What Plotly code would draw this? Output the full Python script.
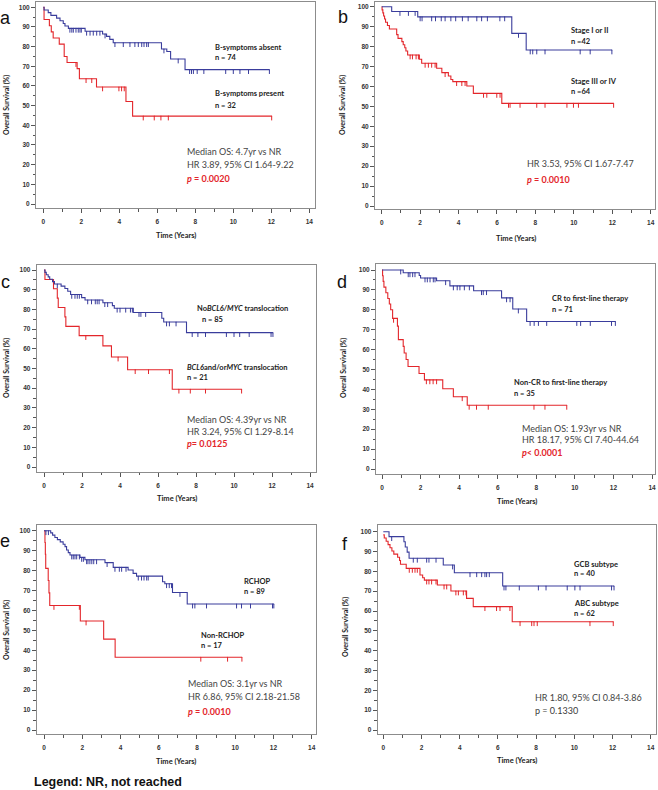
import plotly.graph_objects as go

W, H = 658, 790

# ---------------- data ----------------
# Panel a: B-symptoms
a_blue_t = [0, 0.04, 0.26, 0.4, 0.7, 0.88, 1.05, 1.14, 1.32, 2.2, 3.12, 3.33, 3.5, 3.68, 6.22, 6.5, 6.7, 7.46]
a_blue_s = [100, 98.6, 97.3, 95.9, 94.5, 93.2, 91.8, 90.5, 89.3, 87.8, 86.4, 85.2, 83.7, 82.0, 78.8, 77.5, 73.7, 68.3]
a_blue_c = [1.4, 1.5, 1.58, 1.72, 1.84, 1.93, 2.0, 2.28, 2.46, 2.63, 2.81, 2.98, 3.25, 3.77, 4.21, 4.56, 4.82,
            5.0, 5.18, 5.3, 5.44, 5.53, 6.35, 7.1, 7.7, 7.8, 7.9, 8.1, 8.45, 9.6, 10.0, 10.35, 10.8, 11.9]
a_red_t = [0, 0.04, 0.32, 0.42, 0.52, 0.84, 1.1, 1.25, 1.78, 1.9, 2.8, 4.35, 4.7]
a_red_s = [100, 93.8, 90.6, 87.5, 84.4, 81.3, 75.0, 71.9, 68.8, 63.7, 59.5, 52.1, 44.7]
a_red_c = [1.72, 2.25, 2.55, 3.12, 3.98, 4.12, 4.26, 5.26, 5.84, 6.19, 6.58, 12.02]

# Panel b: stage
b_blue_t = [0, 0.52, 1.875, 6.77, 7.52]
b_blue_s = [100, 97.6, 94.9, 86.6, 78.3]
b_blue_c = [0.95, 1.39, 1.74, 2.0, 2.1, 2.6, 2.8, 3.1, 3.3, 3.6, 3.85, 4.2, 4.5, 4.95, 5.2, 5.5, 6.15, 6.4,
            7.12, 7.73, 7.86, 8.07, 8.5, 10.33, 10.85, 11.98]
b_red_t = [0, 0.02, 0.06, 0.1, 0.15, 0.2, 0.3, 0.4, 0.78, 0.85, 1.05, 1.12, 1.2, 1.26, 1.35, 1.96, 2.08,
           2.86, 3.13, 3.47, 3.6, 3.7, 4.43, 4.77, 6.25]
b_red_s = [100, 98.4, 96.9, 95.3, 93.8, 92.2, 90.6, 88.8, 86.0, 84.1, 82.5, 80.9, 79.4, 77.8, 75.8, 73.6, 71.6,
           69.1, 66.9, 65.2, 63.5, 62.4, 60.2, 56.5, 51.5]
b_red_c = [1.48, 1.6, 1.79, 1.91, 2.26, 2.43, 2.6, 2.78, 3.3, 3.9, 4.17, 4.34, 5.3, 5.47, 5.99, 6.16, 6.6, 6.68,
           7.2, 8.07, 8.5, 9.64, 9.98, 10.24, 12.07]

# Panel c: BCL6/MYC translocation
c_blue_t = [0, 0.05, 0.12, 0.22, 0.3, 0.45, 0.55, 0.9, 1.1, 1.25, 1.4, 1.98, 2.16, 3.1, 3.6, 3.7, 4.7, 6.2, 6.3, 7.5]
c_blue_s = [100, 98.8, 97.6, 96.5, 95.3, 94.1, 92.9, 91.8, 90.6, 89.2, 87.6, 86.0, 84.8, 83.4, 81.9, 80.6, 78.4,
            75.5, 73.6, 68.2]
c_blue_c = [0.7, 1.46, 1.63, 1.75, 1.86, 2.3, 2.5, 2.7, 2.8, 2.9, 3.2, 3.35, 3.85, 4.0, 4.3, 4.55, 4.65, 5.0, 5.1,
            5.35, 6.45, 6.6, 6.95, 7.8, 8.1, 8.5, 9.6, 10.0, 10.3, 10.8, 11.95, 12.05]
c_red_t = [0, 0.05, 0.5, 0.7, 0.75, 1.1, 1.15, 1.85, 3.1, 3.55, 4.4, 6.75]
c_red_s = [100, 95.2, 90.5, 85.7, 81.0, 76.2, 71.4, 66.7, 61.5, 55.8, 49.4, 39.5]
c_red_c = [2.2, 3.9, 4.8, 5.5, 6.6, 7.1, 7.7, 8.5, 10.4]

# Panel d: response to first-line therapy
d_blue_t = [0, 1.1, 1.93, 2.0, 2.83, 3.52, 4.75, 6.2, 6.78, 7.5]
d_blue_s = [100, 98.6, 97.2, 96.0, 94.6, 92.0, 89.6, 86.0, 80.4, 74.1]
d_blue_c = [0.97, 1.36, 1.45, 1.59, 1.71, 2.23, 2.35, 2.49, 2.66, 2.75, 3.3, 3.7, 3.9, 4.04, 4.27, 4.53, 5.16,
            5.25, 5.42, 6.46, 6.64, 7.07, 7.68, 7.89, 8.11, 8.54, 10.1, 10.3, 10.8, 11.9, 12.1]
d_red_t = [0, 0.03, 0.06, 0.1, 0.2, 0.3, 0.38, 0.45, 0.55, 0.8, 0.85, 1.1, 1.15, 1.25, 1.35, 1.92, 2.2, 3.15,
           3.7, 4.42]
d_red_s = [100, 97.1, 94.3, 91.4, 88.6, 85.7, 82.9, 80.0, 75.7, 71.8, 65.0, 61.6, 58.3, 55.0, 51.5, 48.0, 44.8,
           40.3, 36.3, 32.0]
d_red_c = [0.6, 2.3, 2.48, 2.65, 2.83, 4.16, 4.52, 4.9, 5.51, 7.88, 8.45, 9.58]

# Panel e: RCHOP
e_blue_t = [0, 0.35, 0.45, 0.57, 0.7, 0.85, 1.0, 1.1, 1.18, 1.27, 1.36, 1.88, 2.14, 3.19, 3.62, 4.4, 4.66, 4.84,
            6.2, 6.32, 6.72, 7.49]
e_blue_s = [100, 98.9, 97.8, 96.6, 95.5, 94.4, 93.2, 92.0, 90.3, 89.0, 87.8, 86.6, 85.4, 84.0, 81.6, 80.3, 78.6,
            77.2, 74.4, 73.4, 69.0, 63.2]
e_blue_c = [0.1, 0.23, 1.45, 1.53, 1.62, 1.71, 1.85, 1.97, 2.06, 2.23, 2.3, 2.4, 2.5, 2.6, 2.75, 3.3, 3.71, 3.94,
            4.06, 4.29, 4.93, 5.1, 5.23, 5.37, 5.45, 6.41, 6.55, 6.67, 7.11, 7.77, 7.89, 8.5, 10.07, 10.33, 10.8,
            11.95, 12.02]
e_red_t = [0, 0.05, 0.07, 0.09, 0.22, 0.26, 0.3, 1.9, 3.12, 3.72]
e_red_s = [100, 94.1, 88.2, 81.1, 75.0, 68.8, 62.5, 54.7, 45.6, 36.5]
e_red_c = [0.52, 1.85, 2.2, 8.2, 9.6, 10.35]

# Panel f: cell of origin
f_blue_t = [0, 0.3, 1.08, 1.15, 1.25, 1.35, 3.14, 3.72, 6.25]
f_blue_s = [100, 97.5, 94.9, 92.3, 89.7, 86.6, 83.2, 79.3, 72.6]
f_blue_c = [0.44, 1.57, 1.78, 2.27, 2.39, 2.76, 3.63, 4.54, 4.89, 5.15, 5.32, 5.41, 5.55, 6.32, 6.42, 7.12, 8.12,
            8.52, 9.63, 10.03, 10.3, 11.95, 12.08]
f_red_t = [0, 0.05, 0.15, 0.25, 0.35, 0.45, 0.55, 0.75, 0.85, 0.9, 1.2, 1.92, 2.06, 2.15, 2.83, 3.54, 4.36, 4.71,
           6.75]
f_red_s = [98.4, 96.8, 95.2, 93.5, 91.9, 90.3, 88.7, 87.1, 85.5, 83.6, 81.5, 78.2, 76.8, 75.6, 73.1, 70.1, 66.4,
           62.2, 54.6]
f_red_c = [1.36, 1.52, 1.66, 1.78, 2.27, 2.39, 2.53, 2.76, 3.18, 3.32, 3.8, 3.93, 4.19, 4.33, 5.32, 5.93, 6.11,
           6.63, 7.16, 7.77, 7.89, 8.06, 10.82, 12.04]

x_ticks = [0, 2, 4, 6, 8, 10, 12, 14]
y_ticks = [0, 10, 20, 30, 40, 50, 60, 70, 80, 90, 100]

# ---------------- styling / layout ----------------
BLUE = "#3a3d9c"
RED = "#e3262b"
TXT = "#3a3a3a"
LBL = "Lato"

panels = [
    dict(letter="a", letter_xy=(5, 18), box=(36, 2, 315, 208), xcal=(43.3, 309.3), ycal=(7.3, 204),
         ytitle_xy=(6, 105), xtitle_xy=(176, 235),
         blue=(a_blue_t, a_blue_s, a_blue_c), red=(a_red_t, a_red_s, a_red_c),
         groups=[(8.95, 79.8, "B-symptoms absent"), (8.95, 74.7, "n = 74"),
                 (8.95, 56.0, "B-symptoms present"), (8.95, 50.3, "n = 32")],
         stats=[(7.45, 26.5, "Median OS: 4.7yr vs NR"), (7.45, 20.3, "HR 3.89, 95% CI 1.64-9.22")],
         p=(7.45, 13.2, "<i>p</i> = 0.0020", RED)),
    dict(letter="b", letter_xy=(343, 17), box=(375, 2, 655, 209), xcal=(381.7, 650.7), ycal=(6.7, 206),
         ytitle_xy=(342, 105), xtitle_xy=(516, 238),
         blue=(b_blue_t, b_blue_s, b_blue_c), red=(b_red_t, b_red_s, b_red_c),
         groups=[(9.75, 88.3, "Stage I or II"), (9.75, 82.4, "n =42"),
                 (9.75, 62.4, "Stage III or IV"), (9.75, 57.4, "n =64")],
         stats=[(7.46, 21.1, "HR 3.53, 95% CI 1.67-7.47")],
         p=(7.46, 13.1, "<i>p</i> = 0.0010", RED)),
    dict(letter="c", letter_xy=(5, 282), box=(36.7, 265, 316, 471.7), xcal=(44, 310), ycal=(270, 467),
         ytitle_xy=(6, 368), xtitle_xy=(177, 498),
         blue=(c_blue_t, c_blue_s, c_blue_c), red=(c_red_t, c_red_s, c_red_c),
         groups=[(7.95, 80.7, "No<i>BCL6/MYC</i> translocation"), (8.2, 75.0, "n = 85"),
                 (7.42, 50.4, "<i>BCL6</i>and/or<i>MYC</i> translocation"), (7.42, 45.3, "n = 21")],
         stats=[(7.42, 24.2, "Median OS: 4.39yr vs NR"), (7.42, 17.9, "HR 3.24, 95% CI 1.29-8.14")],
         p=(7.42, 11.7, "<i>p</i>= 0.0125", RED)),
    dict(letter="d", letter_xy=(342, 282), box=(376, 264, 655, 474), xcal=(382, 652), ycal=(270, 469),
         ytitle_xy=(343, 368), xtitle_xy=(517, 502),
         blue=(d_blue_t, d_blue_s, d_blue_c), red=(d_red_t, d_red_s, d_red_c),
         groups=[(8.7, 85.8, "CR to first-line therapy"), (8.7, 80.3, "n = 71"),
                 (6.75, 43.4, "Non-CR to first-line therapy"), (6.75, 38.0, "n = 35")],
         stats=[(7.15, 20.4, "Median OS: 1.93yr vs NR"), (7.15, 14.6, "HR 18.17, 95% CI 7.40-44.64")],
         p=(7.15, 8.4, "<i>p</i>< 0.0001", RED)),
    dict(letter="e", letter_xy=(5, 541), box=(36.7, 525, 316, 734), xcal=(44, 311.7), ycal=(530.7, 730),
         ytitle_xy=(6, 630), xtitle_xy=(176, 761),
         blue=(e_blue_t, e_blue_s, e_blue_c), red=(e_red_t, e_red_s, e_red_c),
         groups=[(10.35, 74.4, "RCHOP"), (10.35, 69.4, "n = 89"),
                 (8.08, 47.2, "Non-RCHOP"), (8.08, 42.2, "n = 17")],
         stats=[(7.44, 23.1, "Median OS: 3.1yr vs NR"), (7.44, 16.7, "HR 6.86, 95% CI 2.18-21.58")],
         p=(7.44, 9.2, "<i>p</i> = 0.0010", RED)),
    dict(letter="f", letter_xy=(345, 544), box=(377.7, 525, 656, 734), xcal=(383.3, 650.7), ycal=(531.7, 730),
         ytitle_xy=(345, 627), xtitle_xy=(517, 760),
         blue=(f_blue_t, f_blue_s, f_blue_c), red=(f_red_t, f_red_s, f_red_c),
         groups=[(9.86, 83.7, "GCB subtype"), (9.86, 79.0, "n = 40"),
                 (9.86, 63.6, "ABC subtype"), (9.86, 58.5, "n = 62")],
         stats=[(7.86, 16.5, "HR 1.80, 95% CI 0.84-3.86")],
         p=(7.86, 9.8, "p = 0.1330", TXT)),
]


def step_value(t, s, c):
    v = s[0]
    for ti, si in zip(t, s):
        if ti <= c:
            v = si
    return v


fig = go.Figure()
annotations = []
layout_axes = {}

for i, P in enumerate(panels):
    k = "" if i == 0 else str(i + 1)
    xa, ya = "x" + k, "y" + k
    L, T, R, B = P["box"]
    x0p, x14p = P["xcal"]
    y100p, y0p = P["ycal"]
    sx = (x14p - x0p) / 14.0
    sy = (y0p - y100p) / 100.0
    xr = [(L - x0p) / sx, (R - x0p) / sx]
    yr = [-(B - y0p) / sy, 100 + (y100p - T) / sy]

    for (t, s, c), col in ((P["red"], RED), (P["blue"], BLUE)):
        end = max(max(c), t[-1])
        fig.add_trace(go.Scatter(x=list(t) + [end], y=list(s) + [s[-1]], mode="lines",
                                 line=dict(color=col, width=1.1, shape="hv"),
                                 xaxis=xa, yaxis=ya, showlegend=False, hoverinfo="skip"))
        cy = [step_value(t, s, ci) for ci in c]
        fig.add_trace(go.Scatter(x=c, y=cy, mode="markers", marker=dict(size=1, color=col),
                                 error_y=dict(type="data", symmetric=False, array=[0] * len(c),
                                              arrayminus=[2.2] * len(c), width=0, thickness=1, color=col),
                                 xaxis=xa, yaxis=ya, showlegend=False, hoverinfo="skip"))

    common = dict(showline=True, linecolor="#8c8c8c", linewidth=1, mirror=True, showgrid=False,
                  zeroline=False, ticks="outside", ticklen=4, tickwidth=1, tickcolor="#555555",
                  tickfont=dict(family="Liberation Sans", size=6.5, color="#333333", weight="bold"))
    layout_axes["xaxis" + k] = dict(common, domain=[L / W, R / W], range=xr, anchor=ya,
                                    tickvals=x_ticks, ticklabelstandoff=3,
                                    minor=dict(ticks="outside", ticklen=2.5, dtick=1, tick0=0,
                                               tickcolor="#555555"))
    layout_axes["yaxis" + k] = dict(common, domain=[1 - B / H, 1 - T / H], range=yr, anchor=xa,
                                    tickvals=y_ticks,
                                    minor=dict(ticks="outside", ticklen=2.5, dtick=5, tick0=0,
                                               tickcolor="#555555"))

    # panel letter
    lx, ly = P["letter_xy"]
    annotations.append(dict(text=P["letter"], x=lx / W, y=1 - ly / H, xref="paper", yref="paper",
                            showarrow=False, xanchor="center", yanchor="middle",
                            font=dict(family="Liberation Sans", size=18, color="#111111")))
    # axis titles
    tx, ty = P["ytitle_xy"]
    annotations.append(dict(text="Overall Survival (%)", x=tx / W, y=1 - ty / H, xref="paper", yref="paper",
                            showarrow=False, textangle=-90, xanchor="center", yanchor="middle",
                            font=dict(family=LBL, size=7, color="#222222", weight="bold")))
    tx, ty = P["xtitle_xy"]
    annotations.append(dict(text="Time (Years)", x=tx / W, y=1 - ty / H, xref="paper", yref="paper",
                            showarrow=False, xanchor="center", yanchor="middle",
                            font=dict(family=LBL, size=7.5, color="#222222", weight="bold")))
    for gx, gy, txt in P["groups"]:
        annotations.append(dict(text=txt, x=gx, y=gy, xref=xa, yref=ya, showarrow=False,
                                xanchor="left", yanchor="middle",
                                font=dict(family=LBL, size=7.5, color="#222222", weight="bold")))
    for sxp, syp, txt in P["stats"]:
        annotations.append(dict(text=txt, x=sxp, y=syp, xref=xa, yref=ya, showarrow=False,
                                xanchor="left", yanchor="middle",
                                font=dict(family=LBL, size=9, color="#444444")))
    px_, py_, ptxt, pcol = P["p"]
    annotations.append(dict(text=ptxt, x=px_, y=py_, xref=xa, yref=ya, showarrow=False,
                            xanchor="left", yanchor="middle",
                            font=dict(family=LBL, size=9, color=pcol,
                                      weight="bold" if pcol == RED else "normal")))

annotations.append(dict(text="Legend: NR, not reached", x=32 / W, y=1 - 782 / H, xref="paper", yref="paper",
                        showarrow=False, xanchor="left", yanchor="middle",
                        font=dict(family="Liberation Sans", size=12.5, color="#111111", weight="bold")))

fig.update_layout(width=W, height=H, margin=dict(l=0, r=0, t=0, b=0), paper_bgcolor="white",
                  plot_bgcolor="white", annotations=annotations, **layout_axes)

# remove the default 8px page margin so the 658x790 figure fills the window exactly; no modebar
fig.write_html("out.html", config={"displayModeBar": False},
               post_script="document.body.style.margin='0';document.body.style.overflow='hidden';")
